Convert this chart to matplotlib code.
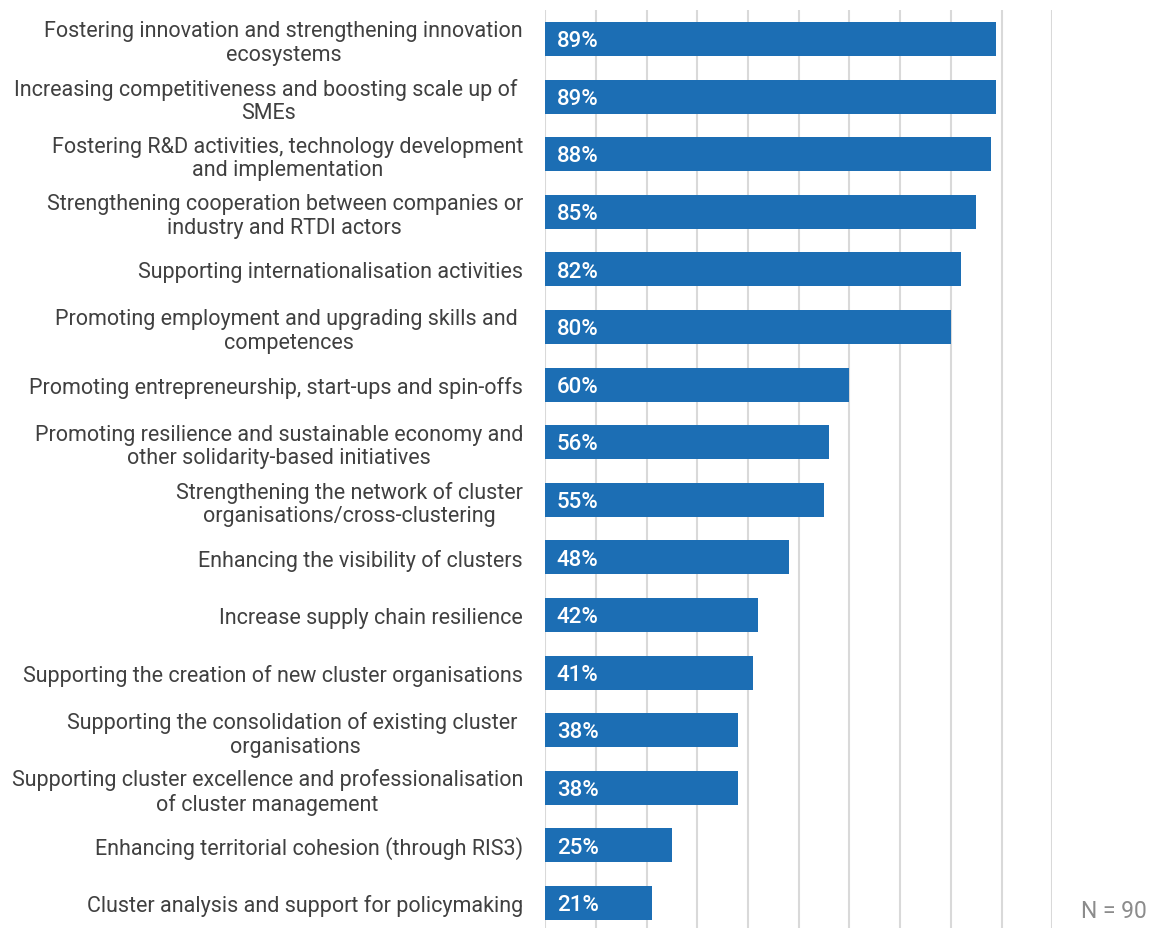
import matplotlib.pyplot as plt

# Data (top to bottom as shown)
labels = [
    "Fostering innovation and strengthening innovation\necosystems",
    "Increasing competitiveness and boosting scale up of \nSMEs",
    "Fostering R&D activities, technology development\nand implementation",
    "Strengthening cooperation between companies or\nindustry and RTDI actors",
    "Supporting internationalisation activities",
    "Promoting employment and upgrading skills and \ncompetences",
    "Promoting entrepreneurship, start-ups and spin-offs",
    "Promoting resilience and sustainable economy and\nother solidarity-based initiatives",
    "Strengthening the network of cluster\norganisations/cross-clustering",
    "Enhancing the visibility of clusters",
    "Increase supply chain resilience",
    "Supporting the creation of new cluster organisations",
    "Supporting the consolidation of existing cluster \norganisations",
    "Supporting cluster excellence and professionalisation\nof cluster management",
    "Enhancing territorial cohesion (through RIS3)",
    "Cluster analysis and support for policymaking",
]
values = [89, 89, 88, 85, 82, 80, 60, 56, 55, 48, 42, 41, 38, 38, 25, 21]

plt.rcParams['font.family'] = ['Roboto', 'DejaVu Sans']

fig = plt.figure(figsize=(11.5, 9.29), dpi=100)
ax = fig.add_axes([0.474, -0.004, 0.441, 0.992])

bar_color = "#1C6EB4"
text_color = "#404040"

y = list(range(len(values)))
ax.barh(y, values, height=0.59, color=bar_color, zorder=3)
ax.set_ylim(len(values) - 0.5, -0.5)
ax.set_xlim(0, 100)
ax.set_xticks(range(0, 101, 10))
ax.grid(axis='x', color="#D9D9D9", linewidth=1.5, zorder=0)
ax.tick_params(axis='x', length=0, labelbottom=False)
ax.tick_params(axis='y', length=0, pad=16)
ax.set_yticks(y)
ax.set_yticklabels(labels, fontsize=15.5, color=text_color, ha='right',
                   multialignment='center', linespacing=1.17)
for s in ax.spines.values():
    s.set_visible(False)

for yi, v in zip(y, values):
    ax.text(2.3, yi + 0.03, f"{v}%", color="white", fontsize=16,
            fontweight='medium', va='center', ha='left', zorder=4)

fig.text(0.997, 0.006, "N = 90", ha='right', va='bottom', fontsize=16.5,
         color="#8C8C8C")

fig.savefig("out.png", dpi=100)
